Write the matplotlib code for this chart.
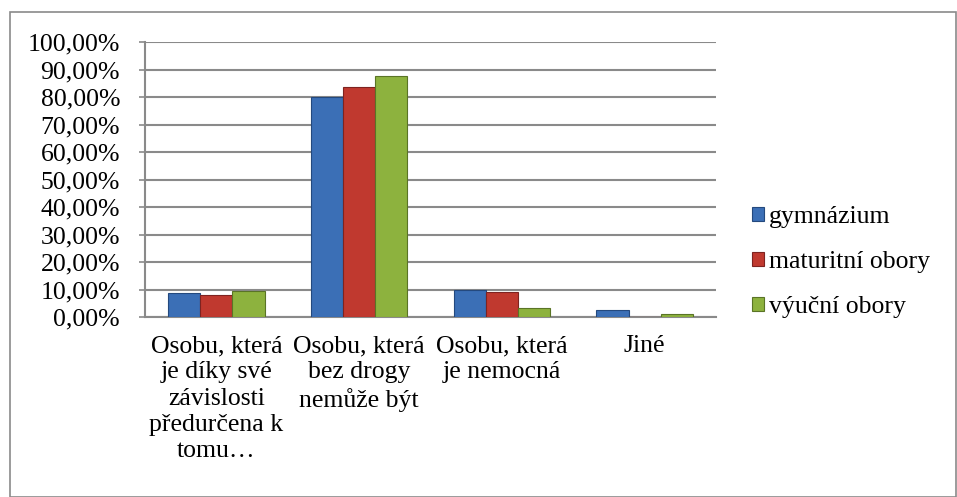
import numpy as np
import matplotlib
matplotlib.use("Agg")
import matplotlib.pyplot as plt
from matplotlib.patches import Rectangle
from matplotlib.ticker import FuncFormatter

plt.rcParams['font.family'] = ['Liberation Serif', 'DejaVu Serif']

categories = [
    "Osobu, která\nje díky své\nzávislosti\npředurčena k\ntomu…",
    "Osobu, která\nbez drogy\nnemůže být",
    "Osobu, která\nje nemocná",
    "Jiné",
]
series_names = ["gymnázium", "maturitní obory", "výuční obory"]
gymnazium = [8.9, 80.0, 9.7, 2.6]
maturitni = [7.9, 83.6, 9.2, 0.0]
vyucni = [9.4, 87.5, 3.4, 1.1]

colors = ["#3B6FB6", "#C0392F", "#8DB23E"]
edges = ["#24497E", "#7E2320", "#5A7426"]

fig = plt.figure(figsize=(9.57, 4.97), dpi=100)
ax = fig.add_axes([145 / 957, 1 - 317 / 497, (716 - 145) / 957, (317 - 42) / 497])

x = np.arange(len(categories))
w = 0.225
for i, vals in enumerate([gymnazium, maturitni, vyucni]):
    ax.bar(x + (i - 1) * w, vals, width=w, color=colors[i], edgecolor=edges[i],
           linewidth=0.8, label=series_names[i], zorder=3)

ax.set_xlim(-0.5, len(categories) - 0.5)
ax.set_ylim(0, 100)
ax.set_yticks(np.arange(0, 101, 10))
ax.yaxis.set_major_formatter(FuncFormatter(lambda v, p: f"{v:.2f}%".replace(".", ",")))
ax.yaxis.grid(True, color="#8a8a8a", linewidth=1.5, zorder=0)

ax.set_xticks(x)
ax.set_xticklabels(categories, linespacing=1.25)
ax.tick_params(axis="x", length=0, pad=13, labelsize=18.5)
ax.tick_params(axis="y", length=4, width=1.2, color="#8a8a8a", pad=14, labelsize=18.5)

for s in ["top", "right"]:
    ax.spines[s].set_visible(False)
for s in ["left", "bottom"]:
    ax.spines[s].set_color("#8a8a8a")
    ax.spines[s].set_linewidth(1.5)

leg = ax.legend(loc="center left", bbox_to_anchor=(1.0, 0.2), frameon=False,
                fontsize=18.5, handlelength=0.45, handleheight=0.45,
                handletextpad=0.2, labelspacing=0.9, borderaxespad=1.0)

fig.patches.append(Rectangle((10 / 957, 0.0), 946 / 957, 1 - 12 / 497,
                             transform=fig.transFigure, fill=False,
                             edgecolor="#8a8a8a", linewidth=1.2))

fig.savefig("out.png", dpi=100)
